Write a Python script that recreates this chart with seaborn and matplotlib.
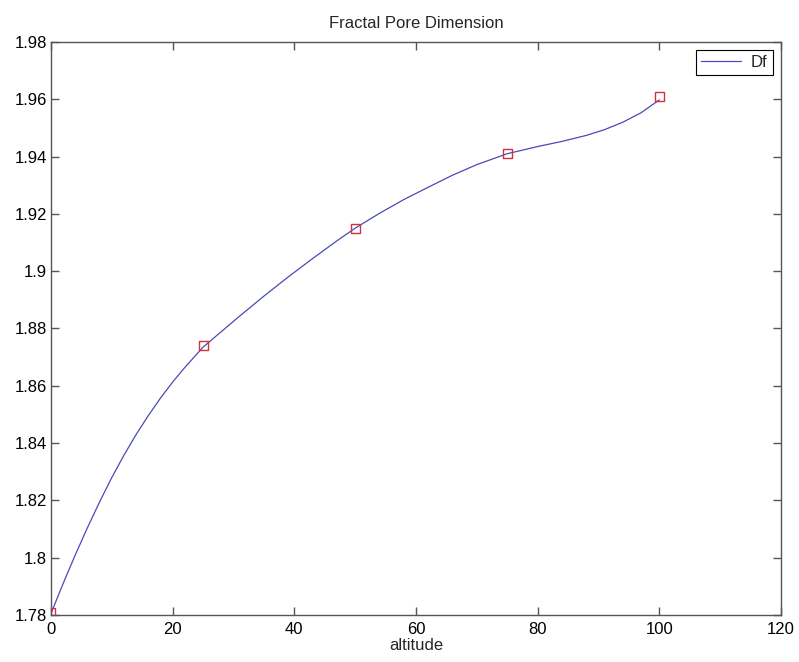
import numpy as np
import pandas as pd
import matplotlib
matplotlib.use("Agg")
import matplotlib.pyplot as plt
import seaborn as sns

# Measured fractal dimension at each altitude
altitude_pts = [0, 25, 50, 75, 100]
df_pts = [1.781, 1.874, 1.915, 1.941, 1.961]

# Smooth fitted curve through the measurements
altitude_curve = [0, 2, 4, 6, 8, 10, 12, 14, 16, 18, 20, 22, 25, 28, 31, 35, 39,
                  43, 47, 50, 54, 58, 62, 66, 70, 75, 80, 84, 88, 91, 94, 97, 100]
df_curve = [1.7805, 1.7910, 1.8010, 1.8105, 1.8195, 1.8280, 1.8358, 1.8430,
            1.8496, 1.8557, 1.8613, 1.8664, 1.8735, 1.8789, 1.8843, 1.8913,
            1.8980, 1.9044, 1.9106, 1.9150, 1.9202, 1.9250, 1.9293, 1.9335,
            1.9372, 1.9410, 1.9435, 1.9453, 1.9474, 1.9494, 1.9520, 1.9553,
            1.9598]

x_ticks = [0, 20, 40, 60, 80, 100, 120]
y_ticks = [1.78, 1.80, 1.82, 1.84, 1.86, 1.88, 1.90, 1.92, 1.94, 1.96, 1.98]
y_tick_labels = ["1.78", "1.8", "1.82", "1.84", "1.86", "1.88", "1.9",
                 "1.92", "1.94", "1.96", "1.98"]

sns.set_style("ticks")
plt.rcParams["font.family"] = ["Liberation Sans", "DejaVu Sans"]

fig = plt.figure(figsize=(7.99, 6.62), dpi=100)
ax = fig.add_axes([0.0638, 0.071, 0.9137, 0.8656])

curve = pd.DataFrame({"altitude": altitude_curve, "Df": df_curve})
points = pd.DataFrame({"altitude": altitude_pts, "Df": df_pts})

sns.lineplot(data=curve, x="altitude", y="Df", ax=ax, color="#4a4ab8",
             linewidth=0.9, label="Df", sort=True)
sns.scatterplot(data=points, x="altitude", y="Df", ax=ax, marker="s", s=42,
                facecolor="none", edgecolor="#d03040", linewidth=1.0,
                legend=False, zorder=3)

ax.set_xlim(0, 120)
ax.set_ylim(1.78, 1.98)
ax.set_xticks(x_ticks)
ax.set_xticklabels([str(v) for v in x_ticks])
ax.set_yticks(y_ticks)
ax.set_yticklabels(y_tick_labels)

for side in ["top", "right", "left", "bottom"]:
    ax.spines[side].set_visible(True)
    ax.spines[side].set_color("#555555")
    ax.spines[side].set_linewidth(1.0)

ax.tick_params(axis="both", direction="in", length=6, width=1.0,
               color="#555555", labelsize=12, labelcolor="black",
               top=True, right=True)
ax.tick_params(axis="x", pad=5)
ax.tick_params(axis="y", pad=3)

ax.set_title("Fractal Pore Dimension", fontsize=12, pad=10)
ax.set_xlabel("altitude", fontsize=12, labelpad=1)
ax.set_ylabel("")

leg = ax.legend(loc="upper right", fancybox=False, edgecolor="black",
                framealpha=1, fontsize=12, handlelength=2.4,
                borderaxespad=0.5, borderpad=0.3, handletextpad=0.6)
leg.get_frame().set_linewidth(0.8)

fig.savefig("out.png", dpi=100, facecolor="white")
